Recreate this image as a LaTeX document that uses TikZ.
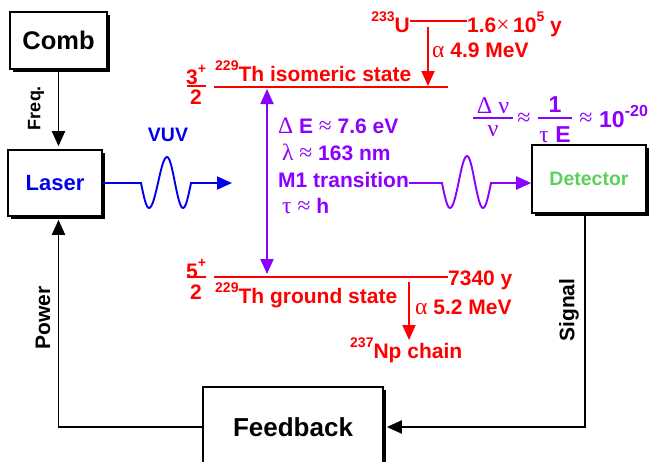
\documentclass[tikz,border=0pt]{standalone}
\usepackage{fontspec}
\setmainfont{Liberation Sans}
\newfontfamily\gr{Liberation Serif}
\usetikzlibrary{arrows.meta,shadows}
\definecolor{myred}{RGB}{255,0,0}
\definecolor{mypurple}{RGB}{140,0,255}
\definecolor{myblue}{RGB}{0,0,235}
\definecolor{mygreen}{RGB}{90,210,90}
\newcommand\sps[1]{\raisebox{0.48em}{\fontsize{14}{14}\selectfont #1}}
\newcommand\fs[1]{\fontsize{#1}{#1}\selectfont\bfseries}
\newcommand\grk[1]{{\gr\mdseries\fontsize{23.5}{23.5}\selectfont #1}}
\tikzset{
  box/.style={draw, line width=1.6pt, fill=white, inner sep=0pt,
    general shadow={fill=black, shadow xshift=3pt, shadow yshift=-3pt}},
  txt/.style={inner sep=0pt, font=\fs{21}},
  tip/.style={-{Triangle[length=15pt,width=13pt]}},
  conn/.style={line width=1.9pt, tip},
  lvl/.style={line width=2pt, myred},
  fbar/.style={line width=1.6pt},
}
\begin{document}
\begin{tikzpicture}[x=1pt,y=-1pt]
\clip (0,0) rectangle (655,461);
% boxes
\node[box, minimum width=97pt, minimum height=57pt, font=\fs{25.5}] (comb) at (58.5,40.5) {Comb};
\node[box, minimum width=94pt, minimum height=66pt, font=\fs{22}, text=myblue] (laser) at (55,183) {Laser};
\node[box, minimum width=114pt, minimum height=68pt, font=\fs{19.5}, text=mygreen] (det) at (589,179) {Detector};
\node[box, minimum width=180pt, minimum height=80pt, font=\fs{26}] (fb) at (293,427) {Feedback};
% black connectors
\draw[conn] (comb.south) -- ([yshift=3pt]comb.south |- laser.north);
\node[txt, rotate=90, font=\fs{18}] (freq) at (36,108) {Freq.};
\draw[conn] (fb.west) -| ([yshift=-3pt]comb.south |- laser.south);
\node[txt, rotate=90] (power) at (43,318) {Power};
\draw[conn] ([xshift=-4pt]det.south) |- ([xshift=3pt]fb.east);
\node[txt, rotate=90] (signal) at (569,310) {Signal};
% VUV wave
\node[txt, myblue, font=\fs{19.5}] (vuv) at (168,135) {VUV};
\coordinate (vuvend) at (232,183);
\draw[conn, myblue] (laser.east) -- (141,183) sin (149,208) cos (158,183) sin (167,157) cos (175,183) sin (183,208) cos (191,183) -- (vuvend);
% levels
\coordinate (isoL) at (214,87); \coordinate (isoR) at (448,87);
\coordinate (gndL) at (214,277); \coordinate (gndR) at (448,277);
\draw[lvl] (isoL) -- (isoR);
\draw[lvl] (gndL) -- (gndR);
\node[txt, myred, anchor=base west] (iso) at (215,81) {\sps{229}Th isomeric state};
\node[txt, myred, anchor=base west] (gnd) at (215,303) {\sps{229}Th ground state};
\node[txt, myred] (s3n) at (196,75) {3\sps{+}};
\node[txt, myred] (s3d) at (196,97) {2};
\draw[fbar, myred] (187,86) -- (206,86);
\node[txt, myred] (s5n) at (196,269) {5\sps{+}};
\node[txt, myred] (s5d) at (196,292) {2};
\draw[fbar, myred] (187,277) -- (206,277);
% U-233
\node[txt, myred, anchor=base east] (u) at (410,32) {\sps{233}U};
\coordinate (uL) at (410,21); \coordinate (uR) at (467,21);
\draw[lvl] (uL) -- (uR);
\node[txt, myred, anchor=base west] (uhl) at (467,32) {1.6\grk{×}\,10\sps{5} y};
\coordinate (ua1) at (428,27); \coordinate (ua2) at (428,86);
\draw[conn, myred] (ua1) -- (ua2);
\node[txt, myred, anchor=base west] (uaT) at (432,57) {\grk{α} 4.9 MeV};
% Th decay
\node[txt, myred, anchor=base west] (thhl) at (448,285) {7340 y};
\coordinate (ta1) at (409,282); \coordinate (ta2) at (409,340);
\draw[conn, myred] (ta1) -- (ta2);
\node[txt, myred, anchor=base west] (taT) at (415,314) {\grk{α} 5.2 MeV};
\node[txt, myred, anchor=base west] (np) at (350,358) {\sps{237}Np chain};
% transition
\coordinate (tr1) at (267,89); \coordinate (tr2) at (267,274);
\draw[line width=1.9pt, mypurple, {Triangle[length=15pt,width=13pt]}-{Triangle[length=15pt,width=13pt]}] (tr1) -- (tr2);
\node[txt, mypurple, anchor=base west] (de) at (278,133) {\grk{Δ} E \grk{≈} 7.6 eV};
\node[txt, mypurple, anchor=base west] (lam) at (282,160) {\grk{λ ≈} 163 nm};
\node[txt, mypurple, anchor=base west] (m1) at (278,187) {M1 transition};
\node[txt, mypurple, anchor=base west] (tau) at (282,213) {\grk{τ ≈} h};
\draw[conn, mypurple] (m1.east |- 0,183) -- (442,183) sin (450,208) cos (458.5,183) sin (467,156) cos (475,183) sin (483,208) cos (491,183) -- (det.west |- 0,183);
% formula
\node[txt, mypurple, font=\gr\fontsize{24}{24}\selectfont] (fnum) at (493,106) {Δ ν};
\draw[fbar, mypurple] (473,118) -- (513,118);
\node[txt, mypurple, font=\gr\fontsize{24}{24}\selectfont] (fden) at (493,131) {ν};
\node[txt, mypurple, font=\gr\fontsize{24}{24}\selectfont] (ap1) at (524,119) {≈};
\node[txt, mypurple, font=\fs{23}] (fone) at (555,105) {1};
\draw[fbar, mypurple] (538,118) -- (572,118);
\node[txt, mypurple, font=\fs{23}, anchor=base] (fte) at (555,142) {\grk{τ} E};
\node[txt, mypurple, font=\gr\fontsize{24}{24}\selectfont] (ap2) at (586,119) {≈};
\node[txt, mypurple, font=\fs{23}, anchor=base west] (ften) at (599,127) {10\raisebox{11pt}{\fs{16}-20}};
\end{tikzpicture}
\end{document}
